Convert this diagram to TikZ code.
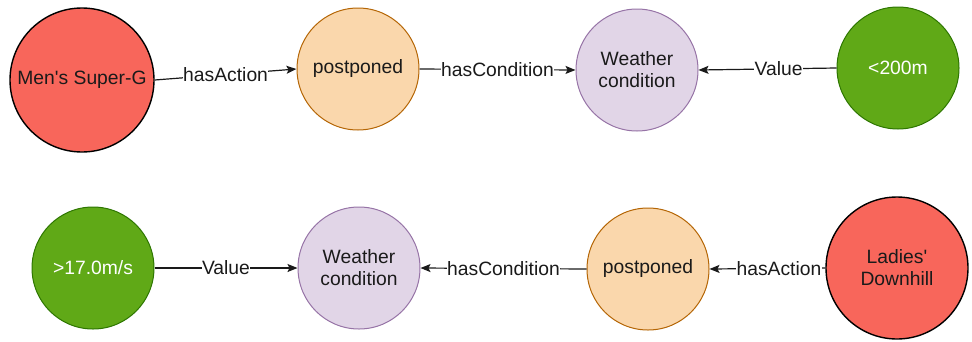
\documentclass[tikz,border=0pt]{standalone}
\usepackage{fontspec}
\setmainfont{Liberation Sans}
\usetikzlibrary{arrows.meta}
\definecolor{eventfill}{HTML}{F8665B}
\definecolor{actfill}{HTML}{FAD7AC}
\definecolor{actline}{HTML}{B46504}
\definecolor{condfill}{HTML}{E1D5E7}
\definecolor{condline}{HTML}{9673A6}
\definecolor{valfill}{HTML}{60A917}
\definecolor{valline}{HTML}{2D7600}
\definecolor{ink}{HTML}{1A1A1A}
\begin{document}
\begin{tikzpicture}[x=1pt,y=-1pt,
  font=\fontsize{19.3}{22}\selectfont,
  term/.style={circle, draw, line width=1pt, minimum size=122pt, inner sep=0pt,
    align=center, text=ink},
  event/.style={term, fill=eventfill, draw=black, line width=1.4pt},
  act/.style={term, fill=actfill, draw=actline},
  cond/.style={term, fill=condfill, draw=condline},
  val/.style={term, fill=valfill, draw=valline, text=white},
  rel/.style={draw=ink, line width=1.2pt, -{Stealth[length=10pt,width=8pt,inset=2pt]}},
  lbl/.style={fill=white, inner sep=0.5pt, text=ink, font=\fontsize{19.3}{22}\selectfont}]
  \useasboundingbox (0,0) rectangle (972,341);

  % upper chain
  \node[event, minimum size=144pt] (men) at (82,80) {Men\textquotesingle s Super-G};
  \node[act]  (pp1) at (358,69) {postponed};
  \node[cond] (wc1) at (637,70) {Weather\\condition};
  \node[val]  (v1)  at (898,68) {<200m};

  \draw[rel] (men.east) -- node[lbl] {hasAction} (pp1.west);
  \draw[rel] (pp1.east) -- node[lbl] {hasCondition} (wc1.west);
  \draw[rel] (v1.west) -- node[lbl, pos=0.42] {Value} (wc1.east);

  % lower chain
  \node[val]  (v2)  at (93,268) {>17.0m/s};
  \node[cond] (wc2) at (359,268) {Weather\\condition};
  \node[act]  (pp2) at (648,269) {postponed};
  \node[event, minimum size=142pt] (lad) at (897,268) {Ladies\textquotesingle\\Downhill};

  \draw[rel] (v2.east) -- node[lbl] {Value} (wc2.west);
  \draw[rel] (pp2.west) -- node[lbl] {hasCondition} (wc2.east);
  \draw[rel] (lad.west) -- node[lbl, pos=0.4] {hasAction} (pp2.east);
\end{tikzpicture}
\end{document}
